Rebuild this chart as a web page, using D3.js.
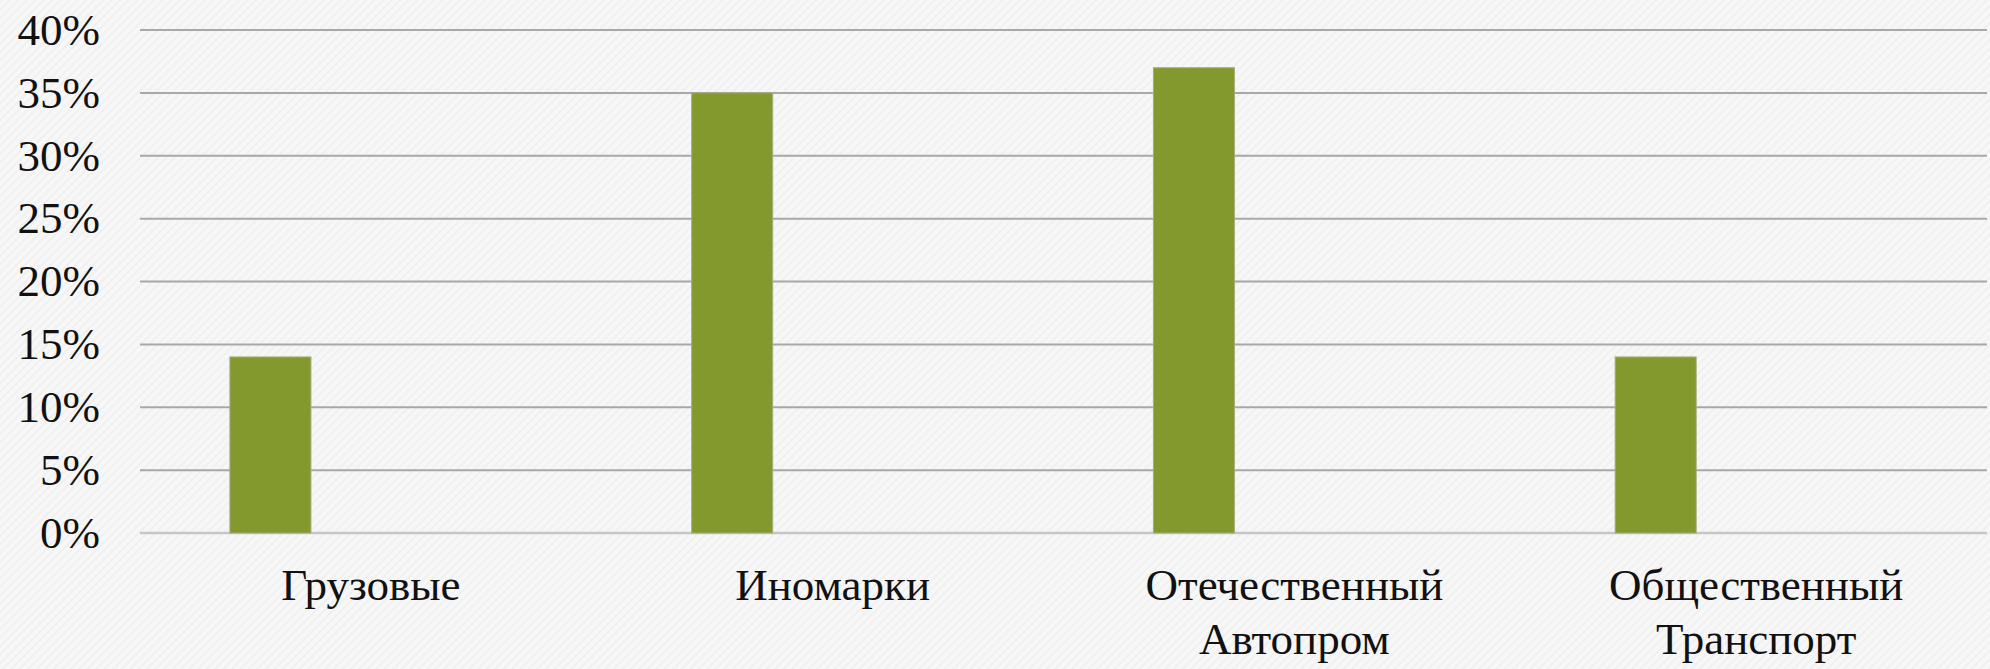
<!DOCTYPE html>
<html>
<head>
<meta charset="utf-8">
<script src="https://cdn.jsdelivr.net/npm/d3@7"></script>
<style>
  html, body { margin: 0; padding: 0; background: #f6f6f6; }
  svg { display: block; }
</style>
</head>
<body>
<svg id="chart"></svg>
<script>
// chart data
var categories = [['Грузовые'], ['Иномарки'], ['Отечественный', 'Автопром'], ['Общественный', 'Транспорт']]
var seriesNames = ['Ряд 1', 'Ряд 2']
var values = [0.14, 0.35, 0.37, 0.14]
var yTicks = [0, 0.05, 0.1, 0.15, 0.2, 0.25, 0.3, 0.35, 0.4]

var width = 1990, height = 669
var margin = { top: 30, right: 3, bottom: 136, left: 140 }
var fontFamily = "'Liberation Serif', 'Times New Roman', serif"

var svg = d3.select('#chart').attr('width', width).attr('height', height)

// textured background
var defs = svg.append('defs')
var pat = defs.append('pattern')
  .attr('id', 'tex')
  .attr('width', 6).attr('height', 6)
  .attr('patternUnits', 'userSpaceOnUse')
  .attr('patternTransform', 'rotate(45)')
pat.append('rect').attr('width', 6).attr('height', 6).attr('fill', '#f7f7f7')
pat.append('rect').attr('width', 2).attr('height', 6).attr('fill', '#f0f0f0')
svg.append('rect').attr('width', width).attr('height', height).attr('fill', 'url(#tex)')

var keys = categories.map(function (d) { return d.join(' ') })

var x0 = d3.scaleBand()
  .domain(keys)
  .range([margin.left, width - margin.right])
  .padding(0)

// slots inside each category (second series is empty)
var x1 = d3.scaleBand()
  .domain(seriesNames)
  .range([0, x0.bandwidth()])
  .paddingInner(0)
  .paddingOuter(1.85)
  .align(0.3)

var y = d3.scaleLinear()
  .domain([0, 0.4])
  .range([height - margin.bottom, margin.top])

// gridlines
svg.append('g')
  .selectAll('line')
  .data(yTicks)
  .join('line')
  .attr('x1', margin.left)
  .attr('x2', width - margin.right)
  .attr('y1', function (d) { return y(d) })
  .attr('y2', function (d) { return y(d) })
  .attr('stroke', function (d) { return d === 0 ? '#c6c6c6' : '#a8a8a8' })
  .attr('stroke-width', function (d) { return d === 0 ? 2.5 : 2 })

// y labels
svg.append('g')
  .selectAll('text')
  .data(yTicks)
  .join('text')
  .attr('x', 100)
  .attr('y', function (d) { return y(d) })
  .attr('dy', '0.33em')
  .attr('text-anchor', 'end')
  .style('font-family', fontFamily)
  .style('font-size', '45px')
  .style('fill', '#111')
  .text(d3.format('.0%'))

// bars
svg.append('g')
  .selectAll('rect')
  .data(values)
  .join('rect')
  .attr('x', function (d, i) { return x0(keys[i]) + x1(seriesNames[0]) })
  .attr('width', x1.bandwidth())
  .attr('y', function (d) { return y(d) })
  .attr('height', function (d) { return y(0) - y(d) })
  .attr('fill', '#84992d')
  .attr('stroke', '#a3ad7c')
  .attr('stroke-width', 1)

// category labels
var lab = svg.append('g')
  .selectAll('text')
  .data(categories)
  .join('text')
  .attr('text-anchor', 'middle')
  .style('font-family', fontFamily)
  .style('font-size', '45px')
  .style('fill', '#111')
  .attr('transform', function (d, i) {
    return 'translate(' + (x0(keys[i]) + x0.bandwidth() / 2) + ',600)'
  })
lab.selectAll('tspan')
  .data(function (d) { return d })
  .join('tspan')
  .attr('x', 0)
  .attr('y', function (d, i) { return i * 54 })
  .text(function (d) { return d })
</script>
</body>
</html>
